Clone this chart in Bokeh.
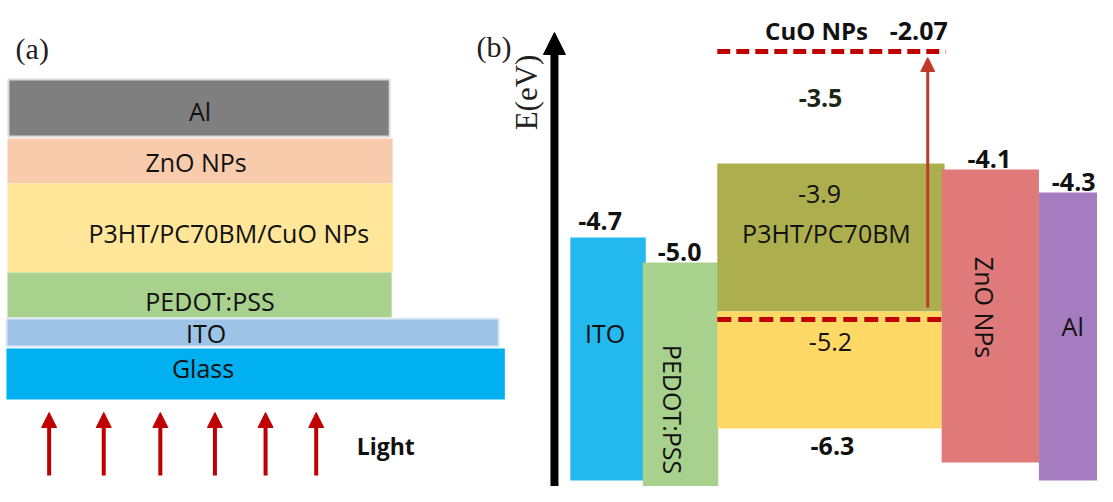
import math
from bokeh.plotting import figure
from bokeh.models import Range1d, Arrow, NormalHead, ColumnDataSource
from bokeh.core.properties import value
from bokeh.embed import file_html
from bokeh.resources import INLINE

# ---------------- data ----------------
# Panel (a): device stack (top to bottom)
stack_layers = ["Al", "ZnO NPs", "P3HT/PC70BM/CuO NPs", "PEDOT:PSS", "ITO", "Glass"]
stack_colors = ["#7f7f7f", "#f8cbad", "#ffe699", "#a9d18e", "#9dc3e6", "#00b0f0"]
light_label = "Light"
n_light_rays = 6

# Panel (b): energy levels (eV)
band_names = ["ITO", "PEDOT:PSS", "P3HT/PC70BM", "ZnO NPs", "Al"]
band_levels = [-4.7, -5.0, -3.9, -4.1, -4.3]
band_colors = ["#23b9ef", "#a9d18e", "#adaf4e", "#e07a7a", "#a57cc0"]
active_levels = {"P3HT LUMO": -3.5, "PC70BM LUMO": -3.9, "P3HT HOMO": -5.2, "PC70BM HOMO": -6.3}
cuo_level = -2.07
axis_label = "E(eV)"
panel_labels = ["(a)", "(b)"]

# ---------------- layout (pixel geometry of the schematic) ----------------
stack_left = [8, 7, 7, 7, 6, 6]
stack_right = [392, 395, 395, 394, 502, 508]
stack_top = [79, 138, 183, 272, 318, 348]
stack_bottom = [136, 183, 272, 317, 346, 399]
stack_line = ["#d9d9d9", None, None, None, "#deebf7", None]
stack_text_x = [201, 197, 230, 211, 207, 204]
stack_text_y = [110, 161, 232, 300, 332, 367]
ray_x = [49, 104, 161, 216, 267, 318]

band_left = [574, 647, 722, 948, 1046]
band_right = [650, 723, 951, 1046, 1120]
band_top = [237, 262, 163, 169, 192]
band_bottom = [480, 510, 311, 462, 480]

p = figure(width=1097, height=486, output_backend="svg", toolbar_location=None,
           x_range=Range1d(0, 1105), y_range=Range1d(486, 0),
           min_border=0, outline_line_color=None, background_fill_color="white")
p.axis.visible = False
p.grid.visible = False

FONT = value("Open Sans")
SERIF = value("Liberation Serif")
FS = "25px"

# Panel (a) layers
src_a = ColumnDataSource(dict(l=stack_left, r=stack_right, t=stack_top, b=stack_bottom,
                              c=stack_colors, lc=[c if c else col for c, col in zip(stack_line, stack_colors)],
                              lw=[2 if c else 0 for c in stack_line]))
p.quad(left="l", right="r", top="t", bottom="b", fill_color="c", line_color="lc",
       line_width="lw", source=src_a)

# Panel (b) bands
p.quad(left=band_left[:2], right=band_right[:2], top=band_top[:2], bottom=band_bottom[:2],
       fill_color=band_colors[:2], line_color=None)
# active layer: olive (LUMO region) and yellow (HOMO region)
p.quad(left=[722], right=[951], top=[163], bottom=[311], fill_color="#adaf4e", line_color=None)
p.quad(left=[722], right=[948], top=[311], bottom=[428], fill_color="#ffd966", line_color=None)
p.quad(left=band_left[3:], right=band_right[3:], top=band_top[3:], bottom=band_bottom[3:],
       fill_color=band_colors[3:], line_color=None)

# dashed levels
p.line([722, 951], [319, 319], line_color="#c00000", line_width=5, line_dash="14 7")
p.line([722, 952], [51, 51], line_color="#c00000", line_width=5, line_dash="13 6")

# arrows
for x in ray_x[:n_light_rays]:
    p.add_layout(Arrow(end=NormalHead(size=15, fill_color="#c00000", line_color="#c00000"),
                       x_start=x, y_start=475, x_end=x, y_end=412,
                       line_color="#c00000", line_width=4))
p.add_layout(Arrow(end=NormalHead(size=14, fill_color="#c0392b", line_color="#c0392b"),
                   x_start=934, y_start=307, x_end=934, y_end=57,
                   line_color="#c0392b", line_width=3))
p.add_layout(Arrow(end=NormalHead(size=22, fill_color="black", line_color="black"),
                   x_start=558, y_start=497, x_end=558, y_end=32,
                   line_color="black", line_width=8))

def fmt(v):
    return "%.1f" % v if abs(v * 10 - round(v * 10)) < 1e-9 else "%.2f" % v

# normal texts
norm = dict(x=stack_text_x + [609, 832, 825, 836, 1080],
            y=stack_text_y + [332, 232, 193, 341, 325],
            text=stack_layers + [band_names[0], band_names[2], fmt(active_levels["PC70BM LUMO"]),
                                 fmt(active_levels["P3HT HOMO"]), band_names[4]])
p.text(x="x", y="y", text="text", source=ColumnDataSource(norm), text_font=FONT,
       text_font_size=FS, text_align="center", text_baseline="middle", text_color="#111111")

# rotated texts
p.text(x=[677, 992], y=[409, 307], text=[band_names[1], band_names[3]], angle=-math.pi / 2,
       text_font=FONT, text_font_size=FS, text_align="center", text_baseline="middle",
       text_color="#111111")

# bold texts
bold = dict(x=[604, 684, 826, 996, 1081, 838, 822, 925, 388],
            y=[220, 251, 97, 158, 181, 445, 30, 30, 445],
            text=[fmt(band_levels[0]), fmt(band_levels[1]), fmt(active_levels["P3HT LUMO"]),
                  fmt(band_levels[3]), fmt(band_levels[4]), fmt(active_levels["PC70BM HOMO"]),
                  "CuO NPs", fmt(cuo_level), light_label],
            size=["25px", "25px", "25px", "25px", "25px", "25px", "24px", "25px", "23px"],
            color=["#111111"] * 2 + ["#1c2614"] + ["#111111"] * 6)
p.text(x="x", y="y", text="text", text_font_size="size", source=ColumnDataSource(bold),
       text_font=FONT, text_font_style="bold", text_align="center", text_baseline="middle",
       text_color="color")

# serif labels
p.text(x=[32, 497], y=[48, 46], text=panel_labels, text_font=SERIF, text_font_size="30px",
       text_align="center", text_baseline="middle", text_color="#222222")
p.text(x=[530], y=[92], text=[axis_label], angle=math.pi / 2, text_font=SERIF,
       text_font_size="31px", text_align="center", text_baseline="middle", text_color="#222222")

open("out.html", "w").write(file_html(p, INLINE))
